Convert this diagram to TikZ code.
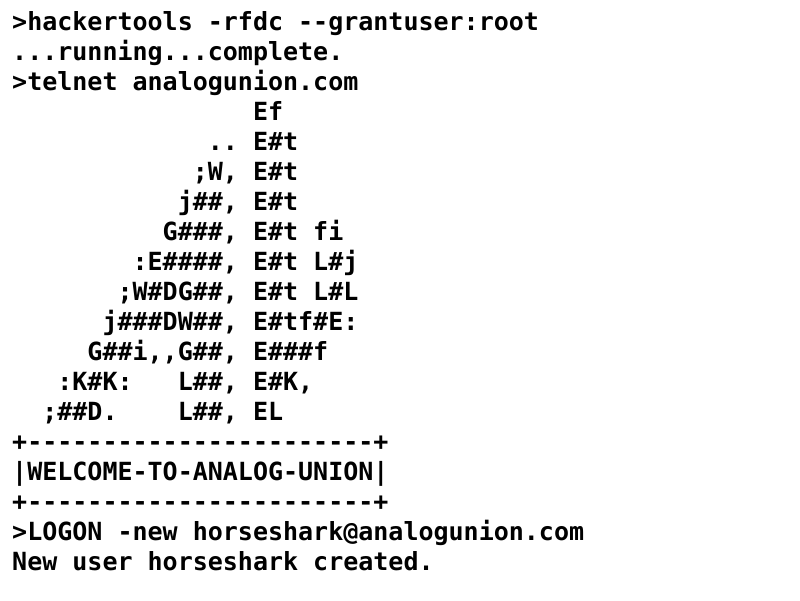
\documentclass[tikz,border=0pt]{standalone}
\usepackage{fontspec}
\newfontfamily\monob{DejaVu Sans Mono}
\begin{document}
\begin{tikzpicture}[x=1pt,y=-1pt,
  ln/.style={anchor=base west,inner sep=0pt,font=\monob\bfseries\fontsize{25}{30}\selectfont}]
\useasboundingbox[fill=white] (0,0) rectangle (800,600);
\node[ln] (l1) at (12,30) {>hackertools -rfdc --grantuser:root};
\node[ln] (l2) at (12,60) {...running...complete.};
\node[ln] (l3) at (12,90) {>telnet analogunion.com};
\node[ln] (l4) at (12,120) {~~~~~~~~~~~~~~~~Ef};
\node[ln] (l5) at (12,150) {~~~~~~~~~~~~~..~E\#t};
\node[ln] (l6) at (12,180) {~~~~~~~~~~~~;W,~E\#t};
\node[ln] (l7) at (12,210) {~~~~~~~~~~~j\#\#,~E\#t};
\node[ln] (l8) at (12,240) {~~~~~~~~~~G\#\#\#,~E\#t~fi};
\node[ln] (l9) at (12,270) {~~~~~~~~:E\#\#\#\#,~E\#t~L\#j};
\node[ln] (l10) at (12,300) {~~~~~~~;W\#DG\#\#,~E\#t~L\#L};
\node[ln] (l11) at (12,330) {~~~~~~j\#\#\#DW\#\#,~E\#tf\#E:};
\node[ln] (l12) at (12,360) {~~~~~G\#\#i,,G\#\#,~E\#\#\#f};
\node[ln] (l13) at (12,390) {~~~:K\#K:~~~L\#\#,~E\#K,};
\node[ln] (l14) at (12,420) {~~;\#\#D.~~~~L\#\#,~EL};
\node[ln] (l15) at (12,450) {+-----------------------+};
\node[ln] (l16) at (12,480) {|WELCOME-TO-ANALOG-UNION|};
\node[ln] (l17) at (12,510) {+-----------------------+};
\node[ln] (l18) at (12,540) {>LOGON -new horseshark@analogunion.com};
\node[ln] (l19) at (12,570) {New user horseshark created.};
\end{tikzpicture}
\end{document}
